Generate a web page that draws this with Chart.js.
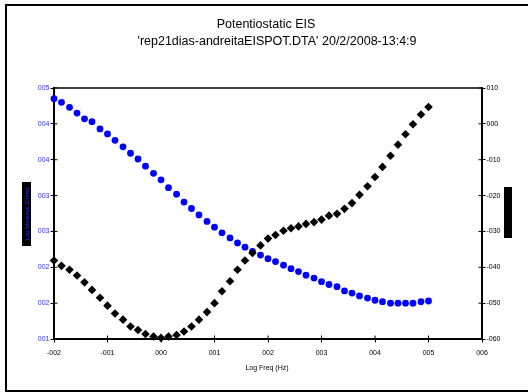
<!DOCTYPE html>
<html>
<head>
<meta charset="utf-8">
<script src="https://cdn.jsdelivr.net/npm/chart.js@4"></script>
<style>
  body { margin: 0; background: #fff; font-family: "Liberation Sans", Arial, sans-serif; }
  #wrap { position: relative; width: 528px; height: 392px; overflow: hidden; }
  #frame { position: absolute; left: 5px; top: 4px; width: 600px; height: 388px; box-sizing: border-box;
           border-left: 2px solid #000; border-top: 2px solid #000; border-bottom: 2px solid #000; }
  canvas { position: absolute; left: 0; top: 0; }
  .txt { position: absolute; white-space: nowrap; color: #000; }
  .t1 { font-size: 12.5px; top: 17px; left: 266px; transform: translateX(-50%); }
  .t2 { font-size: 12.5px; top: 34px; left: 277px; transform: translateX(-50%); }
  .xt { font-size: 7px; top: 364px; left: 267px; transform: translateX(-50%); }
  .box { position: absolute; background: #000; overflow: hidden; }
  .box span { position: absolute; left: 50%; top: 50%; font-size: 6px; white-space: nowrap;
              transform: translate(-50%, -50%) rotate(-90deg); }
</style>
</head>
<body>
<div id="wrap">
  <canvas id="chart" width="528" height="392"></canvas>
  <div id="frame"></div>
  <div class="txt t1">Potentiostatic EIS</div>
  <div class="txt t2">'rep21dias-andreitaEISPOT.DTA' 20/2/2008-13:4:9</div>
  <div class="txt xt">Log Freq (Hz)</div>
  <div class="box" style="left:22px;top:182px;width:9px;height:64px"><span style="color:#3333ff">Log Modulus (Ohm)</span></div>
  <div class="box" style="left:504px;top:187px;width:8px;height:51px"><span style="color:#000">Phase (degrees)</span></div>
</div>
<script>
const logFreq = [-2.00, -1.86, -1.71, -1.57, -1.43, -1.29, -1.14, -1.00, -0.86, -0.71,
  -0.57, -0.43, -0.29, -0.14, 0.00, 0.14, 0.29, 0.43, 0.57, 0.71,
  0.86, 1.00, 1.14, 1.29, 1.43, 1.57, 1.71, 1.86, 2.00, 2.14,
  2.29, 2.43, 2.57, 2.71, 2.86, 3.00, 3.14, 3.29, 3.43, 3.57,
  3.71, 3.86, 4.00, 4.14, 4.29, 4.43, 4.57, 4.71, 4.86, 5.00];

const logModulus = [4.35, 4.30, 4.23, 4.15, 4.07, 4.03, 3.93, 3.86, 3.77, 3.68,
  3.59, 3.51, 3.41, 3.31, 3.22, 3.11, 3.02, 2.91, 2.82, 2.73,
  2.64, 2.56, 2.48, 2.41, 2.34, 2.28, 2.22, 2.17, 2.12, 2.08,
  2.03, 1.98, 1.94, 1.89, 1.85, 1.80, 1.76, 1.73, 1.67, 1.64,
  1.60, 1.57, 1.54, 1.52, 1.50, 1.50, 1.50, 1.50, 1.52, 1.53];

const phase = [-38.1, -39.6, -40.7, -42.3, -44.2, -46.3, -48.5, -50.7, -52.9, -54.6,
  -56.5, -57.5, -58.6, -59.3, -59.7, -59.3, -58.9, -57.9, -56.5, -54.6,
  -52.5, -50.0, -46.7, -43.9, -40.7, -38.1, -36.0, -33.9, -32.0, -31.0,
  -29.8, -29.1, -28.6, -27.9, -27.4, -26.7, -25.6, -25.1, -23.7, -22.1,
  -19.8, -17.4, -14.8, -12.0, -8.9, -5.8, -2.9, -0.1, 2.6, 4.7];

// excel style "000" labels
function fmt(v) {
  const r = Math.round(v);
  return (r < 0 ? '-' : '') + String(Math.abs(r)).padStart(3, '0');
}

const innerTicks = {
  id: 'innerTicks',
  afterDraw(chart) {
    const ctx = chart.ctx;
    const a = chart.chartArea;
    const len = 3.5;
    ctx.save();
    ctx.strokeStyle = '#000';
    ctx.lineWidth = 1;
    ctx.beginPath();
    chart.scales.x.ticks.forEach(t => {
      const px = chart.scales.x.getPixelForValue(t.value);
      ctx.moveTo(px, a.bottom);
      ctx.lineTo(px, a.bottom - len);
    });
    chart.scales.y.ticks.forEach(t => {
      const py = chart.scales.y.getPixelForValue(t.value);
      ctx.moveTo(a.left, py);
      ctx.lineTo(a.left + len, py);
    });
    chart.scales.y2.ticks.forEach(t => {
      const py = chart.scales.y2.getPixelForValue(t.value);
      ctx.moveTo(a.right, py);
      ctx.lineTo(a.right - len, py);
    });
    ctx.stroke();
    // top edge of the plot box
    ctx.lineWidth = 1.5;
    ctx.beginPath();
    ctx.moveTo(a.left, a.top);
    ctx.lineTo(a.right, a.top);
    ctx.stroke();
    ctx.restore();
  }
};

const tickFont = { family: '"Liberation Sans", Arial, sans-serif', size: 7 };

new Chart(document.getElementById('chart'), {
  type: 'scatter',
  data: {
    datasets: [
      {
        label: 'Phase',
        data: logFreq.map((x, i) => ({ x: x, y: phase[i] })),
        yAxisID: 'y2',
        pointStyle: 'rectRot',
        pointRadius: 4.3,
        backgroundColor: '#000',
        borderWidth: 0,
        clip: false
      },
      {
        label: 'Log Modulus',
        data: logFreq.map((x, i) => ({ x: x, y: logModulus[i] })),
        yAxisID: 'y',
        pointStyle: 'circle',
        pointRadius: 3.4,
        backgroundColor: '#0000ff',
        borderWidth: 0,
        clip: false
      }
    ]
  },
  options: {
    responsive: false,
    animation: false,
    devicePixelRatio: 1,
    layout: { padding: { top: 88, left: 0, right: 0, bottom: 0 } },
    plugins: { legend: { display: false }, tooltip: { enabled: false } },
    scales: {
      x: {
        type: 'linear', min: -2, max: 6,
        afterFit: s => { s.height = 53; },
        border: { color: '#000', width: 2 },
        grid: { drawOnChartArea: false, tickLength: 3.5, color: '#000' },
        ticks: { stepSize: 1, autoSkip: false, maxRotation: 0, padding: 6, color: '#000', font: tickFont, callback: v => fmt(v) }
      },
      y: {
        type: 'linear', position: 'left', min: 1, max: 4.5,
        afterFit: s => { s.width = 54; },
        border: { color: '#000', width: 2 },
        grid: { drawOnChartArea: false, tickLength: 3.5, color: '#000' },
        ticks: { stepSize: 0.5, padding: 1, color: '#3333ff', font: tickFont, callback: v => fmt(v) }
      },
      y2: {
        type: 'linear', position: 'right', min: -60, max: 10,
        afterFit: s => { s.width = 46; },
        border: { color: '#000', width: 2 },
        grid: { drawOnChartArea: false, tickLength: 3.5, color: '#000' },
        ticks: { stepSize: 10, padding: 1, color: '#000', font: tickFont, callback: v => fmt(v) }
      }
    }
  },
  plugins: [innerTicks]
});
</script>
</body>
</html>
